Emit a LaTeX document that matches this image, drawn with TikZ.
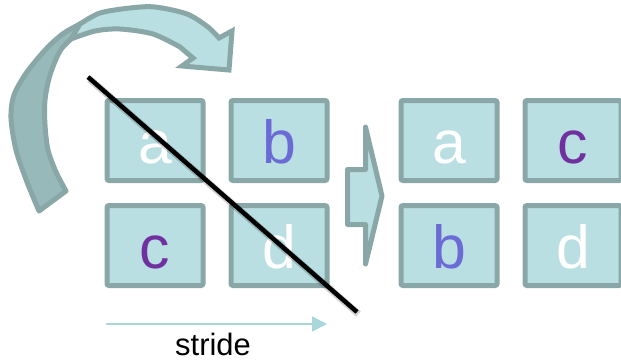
\documentclass[tikz,border=0pt]{standalone}
\usepackage{fontspec}
\setmainfont{Liberation Sans}
\usetikzlibrary{arrows.meta}
\definecolor{cellfill}{HTML}{B9DFE2}
\definecolor{cellline}{HTML}{8AA7A8}
\definecolor{backfill}{HTML}{98B9BA}
\definecolor{lettblue}{HTML}{6B6BD6}
\definecolor{lettpurple}{HTML}{7030A0}
\definecolor{stridecol}{HTML}{A8D6DB}

\begin{document}
\begin{tikzpicture}[x=1bp,y=-1bp,
  cell/.style={draw=cellline, fill=cellfill, line width=5bp, rounded corners=2bp,
    minimum width=96bp, minimum height=80bp, inner sep=0pt,
    text height=46bp, text depth=0pt, font=\fontsize{61}{61}\selectfont},
  blockshape/.style={draw=cellline, line width=5bp, line join=round},
  stridearrow/.style={stridecol, line width=1.5bp, -{Triangle[length=15bp,width=15bp]}},
  cutline/.style={black, line width=4.5bp},
  cutshadow/.style={black, opacity=0.18, line width=7bp}
]
\useasboundingbox (0,0) rectangle (621,361);

% input 2x2 block
\node[cell, text=white]      (la) at (155,140.5) {a};
\node[cell, text=lettblue]   (lb) at (279,140.5) {b};
\node[cell, text=lettpurple] (lc) at (155,245.5) {c};
\node[cell, text=white]      (ld) at (279,245.5) {d};

% transposed 2x2 block
\node[cell, text=white]      (ra) at (449,140.5) {a};
\node[cell, text=lettpurple] (rc) at (573,140.5) {c};
\node[cell, text=lettblue]   (rb) at (449,245.5) {b};
\node[cell, text=white]      (rd) at (573,245.5) {d};

% curved flip arrow: back side of the ribbon
\filldraw[blockshape, fill=backfill]
  plot[smooth] coordinates {(39,211) (27,182) (16,150) (11,118) (14,95) (27,72) (47,48) (64,33) (82,23)}
  -- plot[smooth] coordinates {(72,38) (60,51) (50,75) (45,100) (45,125) (48,150) (56,172) (66,191)}
  -- cycle;
% curved flip arrow: front side with head
\filldraw[blockshape, fill=cellfill, line join=miter]
  plot[smooth] coordinates {(80,24) (100,13) (130,8) (155,7) (187,14) (208,27) (219,38)}
  -- (232,31) -- (229,70) -- (182,66) -- (193,58)
  -- plot[smooth] coordinates {(180,47) (153,34) (120,29) (95,31) (71,39)}
  -- cycle;

% block arrow between the two grids
\filldraw[blockshape, fill=cellfill]
  (347.5,169.5) -- (365.5,169.5) -- (365.5,127) -- (382,196) -- (365.5,264)
  -- (365.5,224.5) -- (347.5,224.5) -- cycle;

% diagonal cut across the input block
\coordinate (cutA) at (88,77);
\coordinate (cutB) at (357,312);
\draw[cutshadow] ([shift={(1.5,2)}]cutA) -- ([shift={(1.5,2)}]cutB);
\draw[cutline] (cutA) -- (cutB);

% stride arrow and label
\coordinate (strideL) at (106,324);
\coordinate (strideR) at (327,324);
\draw[stridearrow] (strideL) -- (strideR);
\node[anchor=base, font=\fontsize{31}{31}\selectfont, inner sep=0pt] (stride) at (213,355) {stride};
\end{tikzpicture}
\end{document}
